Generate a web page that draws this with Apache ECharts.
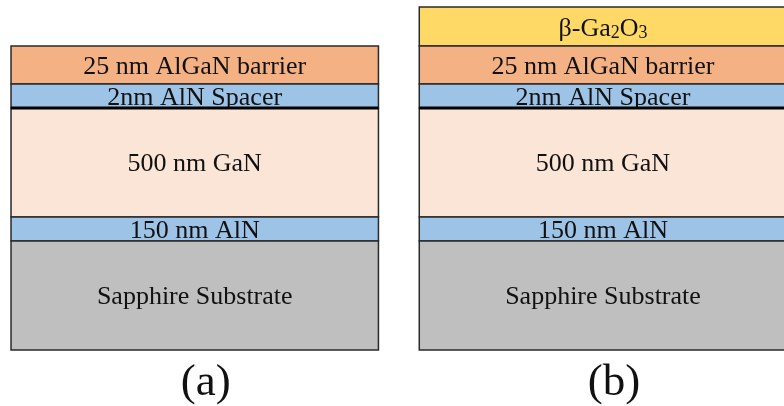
<!DOCTYPE html>
<html>
<head>
<meta charset="utf-8">
<style>
  html, body { margin: 0; padding: 0; background: #ffffff; }
  #chart { width: 784px; height: 406px; }
</style>
<script src="https://cdn.jsdelivr.net/npm/echarts@6/dist/echarts.min.js"></script>
</head>
<body>
<div id="chart"></div>
<script>
// Two epitaxial stacks, side by side (x = 0 and x = 1)
const structures = ['(a)', '(b)'];

// Layers listed from the substrate upward
const layerNames = [
  'Sapphire Substrate',
  '150 nm AlN',
  '500 nm GaN',
  '2nm AlN Spacer',
  '25 nm AlGaN barrier',
  'β-Ga2O3'
];

// Drawn thickness of each layer in schematic units (not to scale); 0 = layer absent
const thicknessA = [109, 24, 109, 24, 38, 0];
const thicknessB = [109, 24, 109, 24, 38, 39];

const stackHeight = 343;
const stackWidth = 0.9;   // width of a stack, in x-axis units

// Fill colours by layer
const layerFill = {
  'Sapphire Substrate': '#BFBFBF',
  '150 nm AlN': '#9DC3E6',
  '500 nm GaN': '#FBE5D6',
  '2nm AlN Spacer': '#9DC3E6',
  '25 nm AlGaN barrier': '#F4B183',
  'β-Ga2O3': '#FFD966'
};
// Layers whose top interface is drawn as a heavy line
const heavyTop = { '500 nm GaN': true };

const FONT = '"Liberation Serif", "Times New Roman", serif';

// One item per layer: [structure index, bottom, top, layer index].
// Upper layers go first so each lower layer paints over text overhanging its top edge.
const thicknessByStructure = [thicknessA, thicknessB];
const items = [];
thicknessByStructure.forEach(function (th, s) {
  const spans = [];
  let base = 0;
  th.forEach(function (t, i) {
    if (t > 0) spans.push([s, base, base + t, i]);
    base += t;
  });
  spans.reverse().forEach(function (d) { items.push(d); });
});

// Turn digits that follow a letter (chemical formulas) into subscripts
function formulaText(name) {
  return name.replace(/([A-Za-z])(\d)/g, '$1{sub|$2}');
}

function renderLayer(params, api) {
  const s = api.value(0);
  const lo = api.value(1);
  const hi = api.value(2);
  const li = api.value(3);
  const name = layerNames[li];
  const pLo = api.coord([s, lo]);
  const pHi = api.coord([s, hi]);
  const w = api.size([stackWidth, 0])[0];
  const x = pLo[0] - w / 2;
  const y = pHi[1];
  const h = pLo[1] - pHi[1];
  const isFormula = /[A-Za-z]\d/.test(name);

  const children = [
    {
      type: 'rect',
      shape: { x: x, y: y, width: w, height: h },
      style: { fill: layerFill[name], stroke: '#2a2a2a', lineWidth: 1.5 }
    },
    {
      type: 'text',
      style: {
        text: formulaText(name),
        x: pLo[0],
        y: y + h / 2 + (isFormula ? 3 : 2),
        align: 'center',
        verticalAlign: 'middle',
        fontSize: 26,
        fontFamily: FONT,
        fill: '#111111',
        rich: {
          sub: { fontSize: 18, fontFamily: FONT, fill: '#111111', verticalAlign: 'bottom', lineHeight: 6 }
        }
      }
    }
  ];
  if (heavyTop[name]) {
    children.push({
      type: 'line',
      shape: { x1: x, y1: y, x2: x + w, y2: y },
      style: { stroke: '#000000', lineWidth: 3 }
    });
  }
  return { type: 'group', children: children };
}

// Caption under each stack
function renderCaption(params, api) {
  const s = api.value(0);
  const p = api.coord([s, 0]);
  return {
    type: 'text',
    style: {
      text: structures[s],
      x: p[0] + 11,
      y: p[1] + 33,
      align: 'center',
      verticalAlign: 'middle',
      fontSize: 45,
      fontFamily: FONT,
      fill: '#111111'
    }
  };
}

const chart = echarts.init(document.getElementById('chart'));
chart.setOption({
  animation: false,
  backgroundColor: '#ffffff',
  grid: { left: 0, right: 0, top: 7, bottom: 56 },
  xAxis: {
    type: 'value',
    min: -0.477,
    max: 1.4434,
    show: false
  },
  yAxis: {
    type: 'value',
    min: 0,
    max: stackHeight,
    show: false
  },
  series: [
    {
      type: 'custom',
      renderItem: renderLayer,
      encode: { x: 0, y: [1, 2] },
      data: items,
      clip: false
    },
    {
      type: 'custom',
      renderItem: renderCaption,
      encode: { x: 0 },
      data: structures.map(function (_, i) { return [i]; }),
      clip: false
    }
  ]
});
</script>
</body>
</html>
